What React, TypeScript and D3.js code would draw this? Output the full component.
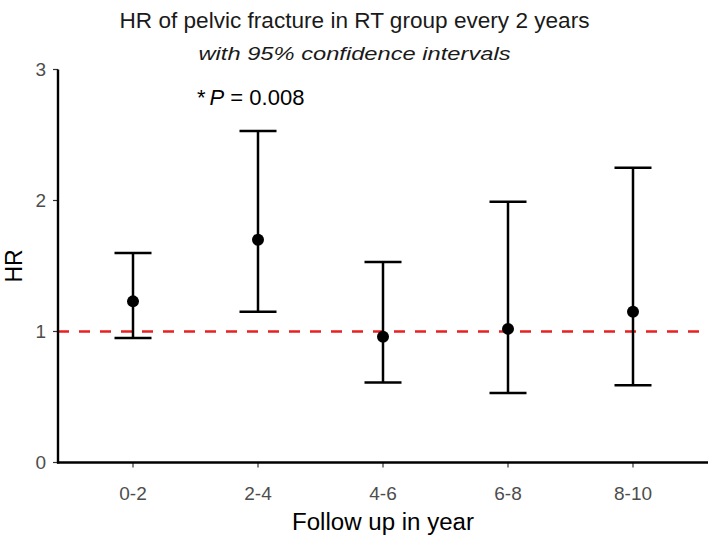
import React from "react";
import * as d3 from "d3";

const categories = ["0-2", "2-4", "4-6", "6-8", "8-10"];
const hr = [1.23, 1.7, 0.96, 1.02, 1.15];
const lower = [0.95, 1.15, 0.61, 0.53, 0.59];
const upper = [1.6, 2.53, 1.53, 1.99, 2.25];
const yTicks = [0, 1, 2, 3];

const W = 709;
const H = 537;
const left = 58;
const right = 708;
const top = 69.5;
const bottom = 462.5;
const font = "'Liberation Sans', Arial, sans-serif";

export default function App() {
  const x = d3.scalePoint<string>().domain(categories).range([left, right]).padding(0.6);
  const y = d3.scaleLinear().domain([0, 3]).range([bottom, top]);
  const capHalf = 18.5;
  const plotCx = (left + right) / 2;
  return (
    <svg width={W} height={H} style={{ position: "absolute", left: 0, top: 0, background: "#fff" }}>
      <text x={W / 2} y={28} textAnchor="middle" fontFamily={font} fontSize={22} fill="#1a1a1a" textLength={470} lengthAdjust="spacingAndGlyphs">
        HR of pelvic fracture in RT group every 2 years
      </text>
      <text x={W / 2} y={60} textAnchor="middle" fontFamily={font} fontSize={18.5} fontStyle="italic" fill="#1a1a1a" textLength={312} lengthAdjust="spacingAndGlyphs">
        with 95% confidence intervals
      </text>
      {/* y ticks */}
      {yTicks.map((t) => (
        <g key={t}>
          <line x1={left - 5} x2={left} y1={y(t)} y2={y(t)} stroke="#333" strokeWidth={1.2} />
          <text x={left - 12} y={y(t)} dy="0.36em" textAnchor="end" fontFamily={font} fontSize={19} fill="#4d4d4d">
            {t}
          </text>
        </g>
      ))}
      {/* x ticks */}
      {categories.map((c) => (
        <g key={c}>
          <line x1={x(c)} x2={x(c)} y1={bottom} y2={bottom + 5} stroke="#333" strokeWidth={1.2} />
          <text x={x(c)} y={bottom + 37} textAnchor="middle" fontFamily={font} fontSize={19} fill="#4d4d4d">
            {c}
          </text>
        </g>
      ))}
      {/* reference line */}
      <line x1={left} x2={right} y1={y(1)} y2={y(1)} stroke="#e8201f" strokeWidth={2.5} strokeDasharray="11 10" />
      {/* error bars */}
      {categories.map((c, i) => {
        const cx = x(c)!;
        return (
          <g key={c} stroke="#000" strokeWidth={2.5}>
            <line x1={cx} x2={cx} y1={y(lower[i])} y2={y(upper[i])} />
            <line x1={cx - capHalf} x2={cx + capHalf} y1={y(lower[i])} y2={y(lower[i])} />
            <line x1={cx - capHalf} x2={cx + capHalf} y1={y(upper[i])} y2={y(upper[i])} />
            <circle cx={cx} cy={y(hr[i])} r={6} fill="#000" stroke="none" />
          </g>
        );
      })}
      {/* axes */}
      <line x1={left} x2={left} y1={top} y2={bottom + 1} stroke="#000" strokeWidth={2.4} />
      <line x1={left - 1} x2={right} y1={bottom} y2={bottom} stroke="#000" strokeWidth={2.4} />
      {/* annotation */}
      <text x={197} y={105} fontFamily={font} fontSize={22} fill="#000">
        *<tspan dx={4} fontStyle="italic">P</tspan> = 0.008
      </text>
      {/* axis titles */}
      <text x={plotCx} y={530} textAnchor="middle" fontFamily={font} fontSize={23} fill="#000" textLength={182} lengthAdjust="spacingAndGlyphs">
        Follow up in year
      </text>
      <text
        transform={`translate(22, ${(top + bottom) / 2}) rotate(-90)`}
        textAnchor="middle"
        fontFamily={font}
        fontSize={23}
        fill="#000"
      >
        HR
      </text>
    </svg>
  );
}
